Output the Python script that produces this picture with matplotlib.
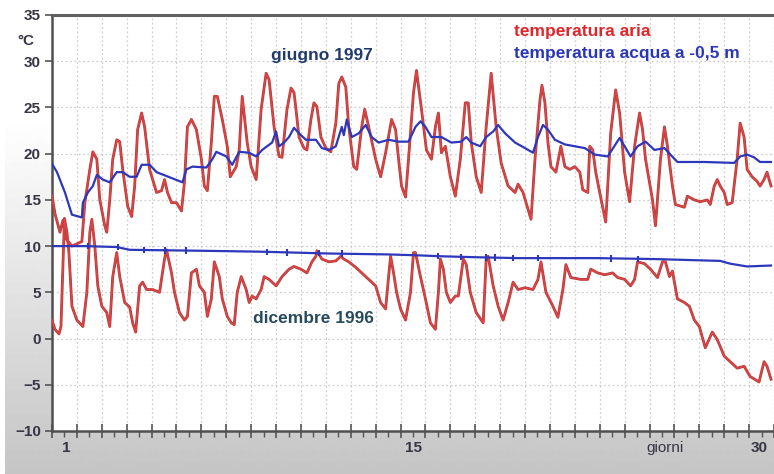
import numpy as np
import matplotlib
matplotlib.use('Agg')
import matplotlib.pyplot as plt
import matplotlib.patheffects as pe

plt.rcParams['font.family'] = ['Liberation Sans', 'DejaVu Sans']

# giugno 1997 - temperatura aria
giu_aria_g = [0.50, 0.62, 0.82, 0.94, 1.06, 1.30, 1.54, 1.70, 1.82, 2.02, 2.14, 2.30, 2.42, 2.62, 2.70,
              2.82, 2.94, 3.10, 3.22, 3.34, 3.54, 3.70, 3.82, 3.94, 4.10, 4.22, 4.42, 4.70, 4.90, 5.02,
              5.14, 5.30, 5.50, 5.70, 5.82, 5.94, 6.10, 6.30, 6.50, 6.62, 6.74, 6.90, 7.02, 7.14, 7.34,
              7.54, 7.66, 7.90, 8.02, 8.14, 8.34, 8.50, 8.70, 8.90, 9.10, 9.22, 9.42, 9.62, 9.74, 9.94,
              10.10, 10.22, 10.30, 10.42, 10.62, 10.74, 10.90, 11.02, 11.14, 11.30, 11.50, 11.70, 11.90,
              12.02, 12.14, 12.30, 12.42, 12.62, 12.74, 12.94, 13.06, 13.22, 13.50, 13.70, 13.90, 14.14,
              14.30, 14.42, 14.54, 14.70, 14.82, 15.02, 15.14, 15.34, 15.54, 15.74, 15.90, 16.02, 16.14,
              16.30, 16.50, 16.70, 16.90, 17.10, 17.22, 17.34, 17.54, 17.74, 17.94, 18.14, 18.34, 18.54,
              18.82, 19.10, 19.22, 19.42, 19.62, 19.74, 19.90, 20.10, 20.18, 20.30, 20.42, 20.54, 20.74,
              20.94, 21.10, 21.30, 21.50, 21.70, 21.82, 22.02, 22.10, 22.22, 22.34, 22.50, 22.74, 22.94,
              23.14, 23.30, 23.50, 23.70, 23.90, 24.10, 24.22, 24.34, 24.62, 24.74, 24.94, 25.10, 25.22,
              25.42, 25.54, 25.90, 26.02, 26.30, 26.54, 26.82, 26.94, 27.10, 27.22, 27.34, 27.50, 27.62,
              27.82, 28.02, 28.14, 28.30, 28.42, 28.62, 28.82, 28.94, 29.10, 29.22, 29.38]
giu_aria_t = [15.5, 13.5, 11.5, 12.8, 10.8, 10.0, 10.3, 10.5, 14.7, 18.3, 20.2, 19.4, 15.0, 12.2, 11.5,
              15.0, 19.4, 21.5, 21.3, 18.3, 14.3, 13.2, 16.5, 22.6, 24.4, 22.9, 18.3, 15.8, 16.0, 17.2,
              15.8, 14.7, 14.7, 13.8, 16.9, 22.9, 23.7, 22.6, 19.4, 16.5, 16.0, 21.2, 26.2, 26.2, 23.7,
              20.8, 17.5, 18.6, 20.4, 26.2, 21.2, 18.6, 17.2, 24.8, 28.7, 28.0, 22.9, 19.7, 19.6, 24.8,
              27.1, 26.6, 24.8, 21.8, 20.6, 20.4, 23.7, 25.5, 25.1, 21.8, 20.6, 20.2, 23.3,
              27.6, 28.3, 27.2, 22.9, 18.6, 18.3, 22.9, 24.8, 22.9, 19.4, 17.5, 20.1, 23.7,
              22.6, 19.4, 16.5, 15.3, 19.4, 26.6, 29.0, 24.8, 20.4, 19.4, 22.9, 24.4, 20.1,
              20.8, 17.5, 15.4, 19.4, 25.5, 25.5, 21.2, 17.5, 15.8, 22.9, 28.7, 22.9, 19.0,
              16.5, 15.8, 16.7, 15.8, 14.0, 12.9, 19.4, 25.8, 27.4, 25.5, 21.2, 18.6, 18.0,
              20.8, 18.6, 18.3, 18.6, 18.0, 16.1, 15.8, 20.8, 20.4, 18.0, 15.8, 12.6, 22.2,
              26.9, 24.4, 18.0, 14.8, 20.8, 24.4, 22.6, 19.4, 15.0, 12.2, 19.4, 22.9, 20.8,
              16.5, 14.5, 14.2, 15.4, 15.0, 14.8, 15.0, 14.5, 16.5, 17.2, 16.5, 15.8, 14.5,
              14.7, 19.4, 23.3, 21.8, 18.3, 17.5, 17.0, 16.5, 17.2, 18.0, 16.5]

# giugno 1997 - temperatura acqua a -0,5 m
giu_acqua_g = [0.50, 0.70, 1.02, 1.30, 1.70, 1.74, 1.94, 2.14, 2.30, 2.54, 2.82, 3.10, 3.34, 3.62, 3.90,
               4.10, 4.42, 4.70, 5.74, 5.90, 6.14, 6.70, 6.94, 7.10, 7.50, 7.74, 8.02, 8.42, 8.70, 8.94,
               9.34, 9.50, 9.62, 9.82, 10.02, 10.22, 10.42, 10.70, 11.10, 11.34, 11.62, 11.90, 12.14,
               12.22, 12.34, 12.54, 12.82, 13.10, 13.34, 13.62, 14.02, 14.42, 14.82, 15.10, 15.30,
               15.50, 15.74, 16.14, 16.54, 16.94, 17.14, 17.34, 17.70, 17.94, 18.22, 18.42, 18.70,
               19.10, 19.50, 19.82, 20.02, 20.22, 20.42, 20.70, 21.10, 21.50, 21.90, 22.30, 22.82,
               23.30, 23.50, 23.74, 24.02, 24.34, 24.70, 25.10, 25.34, 25.62, 26.70, 27.90, 28.14,
               28.42, 28.70, 28.94, 29.38]
giu_acqua_t = [18.9, 18.0, 15.8, 13.4, 13.1, 14.7, 15.8, 16.5, 17.7, 17.2, 16.9, 18.0, 18.0, 17.5, 17.5,
               18.8, 18.8, 18.0, 16.9, 18.3, 18.6, 18.5, 19.4, 20.2, 19.7, 18.8, 20.2, 20.1, 19.7, 20.4,
               21.2, 22.4, 20.8, 21.2, 21.8, 22.8, 22.2, 21.5, 21.5, 20.6, 20.4, 20.8, 22.9,
               22.0, 23.7, 21.8, 22.2, 23.1, 21.8, 21.2, 21.5, 21.3, 21.3, 22.9, 23.5,
               22.9, 21.8, 21.8, 21.2, 21.3, 21.8, 21.2, 20.8, 21.8, 22.4, 23.1, 22.2,
               21.2, 20.6, 20.1, 21.8, 23.1, 22.6, 21.5, 21.0, 20.8, 20.6, 19.9, 19.7,
               21.7, 20.8, 19.7, 20.8, 21.3, 20.4, 20.6, 19.9, 19.1, 19.1, 19.0, 19.7,
               19.9, 19.6, 19.1, 19.1]

# dicembre 1996 - temperatura aria
dic_aria_g = [0.50, 0.62, 0.78, 0.86, 0.94, 1.00, 1.10, 1.18, 1.30, 1.50, 1.74, 1.90, 2.02, 2.10, 2.22,
              2.34, 2.50, 2.70, 2.82, 2.94, 3.10, 3.22, 3.42, 3.62, 3.74, 3.86, 4.02, 4.14, 4.30, 4.54,
              4.82, 5.02, 5.10, 5.30, 5.42, 5.62, 5.82, 5.94, 6.10, 6.30, 6.42, 6.62, 6.74, 6.90, 7.02,
              7.22, 7.34, 7.54, 7.70, 7.82, 7.94, 8.10, 8.30, 8.42, 8.54, 8.70, 8.90, 9.02, 9.22, 9.50,
              9.74, 10.02, 10.22, 10.50, 10.74, 10.94, 11.10, 11.14, 11.34, 11.62, 11.90, 12.10, 12.22,
              12.42, 12.70, 12.94, 13.22, 13.50, 13.70, 13.90, 14.02, 14.10, 14.22, 14.34, 14.50, 14.70,
              14.90, 15.02, 15.10, 15.30, 15.50, 15.70, 15.90, 16.02, 16.10, 16.22, 16.34, 16.50, 16.70,
              16.82, 17.02, 17.14, 17.30, 17.54, 17.82, 17.94, 18.02, 18.22, 18.42, 18.62, 18.82, 19.02,
              19.22, 19.50, 19.82, 20.02, 20.14, 20.34, 20.62, 20.82, 21.02, 21.14, 21.34, 21.74, 22.02,
              22.14, 22.42, 22.70, 23.02, 23.22, 23.50, 23.74, 23.90, 24.02, 24.30, 24.54, 24.82, 25.02,
              25.14, 25.30, 25.42, 25.62, 25.90, 26.10, 26.30, 26.50, 26.74, 27.02, 27.22, 27.50, 27.74,
              28.02, 28.30, 28.54, 28.90, 29.10, 29.22, 29.38]
dic_aria_t = [2.0, 1.0, 0.5, 1.3, 8.0, 13.0, 11.5, 9.3, 3.5, 2.0, 1.3, 5.0, 11.5, 12.9, 10.0,
              5.7, 3.5, 2.8, 1.3, 6.7, 9.3, 6.7, 3.9, 3.4, 1.7, 0.7, 5.7, 6.1, 5.3, 5.3,
              5.0, 8.6, 9.6, 7.1, 5.0, 2.8, 2.0, 2.4, 7.1, 7.5, 5.7, 5.0, 2.4, 4.3, 8.3,
              6.7, 4.3, 2.4, 1.7, 1.5, 5.0, 6.7, 5.3, 3.9, 4.6, 4.3, 5.3, 6.7, 6.4, 5.7,
              6.7, 7.5, 7.8, 7.5, 7.1, 8.3, 8.9, 9.5, 8.6, 8.3, 8.4, 8.9, 8.6,
              8.3, 7.7, 7.1, 6.4, 5.7, 3.9, 3.2, 6.7, 8.9, 7.1, 5.0, 3.2, 2.0,
              5.0, 9.3, 9.3, 6.7, 4.3, 1.7, 1.0, 5.0, 8.6, 7.5, 5.0, 3.9, 4.6,
              4.6, 8.6, 8.0, 5.0, 2.8, 1.7, 8.6, 8.9, 5.7, 3.5, 2.0, 3.9, 6.1,
              5.3, 5.5, 5.3, 6.4, 8.3, 5.0, 3.5, 2.3, 5.3, 8.0, 6.6, 6.4, 6.4,
              7.5, 7.1, 6.9, 7.1, 6.6, 6.4, 5.7, 6.4, 8.3, 8.1, 7.5, 6.6, 8.3,
              8.3, 6.7, 7.3, 4.3, 3.9, 3.5, 2.0, 1.3, -1.0, 0.7, -0.1, -1.9, -2.5,
              -3.2, -3.0, -4.1, -4.7, -2.5, -3.0, -4.4]

# dicembre 1996 - temperatura acqua a -0,5 m
dic_acqua_g = [0.50, 1.82, 3.10, 3.62, 6.42, 8.82, 11.62, 14.02, 15.22, 16.14, 17.50, 19.22, 22.42,
               24.70, 26.02, 27.34, 27.74, 28.42, 29.38]
dic_acqua_t = [10.0, 10.0, 9.9, 9.6, 9.5, 9.4, 9.2, 9.1, 9.0, 8.9, 8.8, 8.7, 8.7,
               8.6, 8.5, 8.4, 8.1, 7.8, 7.9]
dic_acqua_scatti = [1.94, 3.14, 4.18, 5.02, 5.90, 9.14, 9.94, 11.22, 12.14, 16.02, 16.94, 17.94,
                    18.30, 19.02, 20.02, 22.94, 24.02]

y_ticks = list(range(-10, 40, 5))
x_etichette = ['1', '15', '30']
x_etichette_pos = [1.06, 15.02, 28.9]

ROSSO = '#de4444'
ROSSO_BORDO = '#b03a3a'
BLU = '#2d37bb'
TESTO = '#363644'

W, H = 774, 474
fig = plt.figure(figsize=(W / 100, H / 100), dpi=100)

# sfondo grigio sfumato
bg = fig.add_axes([5 / W, 0, 1 - 5 / W, 1], zorder=0)
righe = np.arange(H)
sfum = np.clip(1 - 0.23 * (righe - 120) / 354, 0.77, 1.0).reshape(-1, 1)
bg.imshow(sfum, cmap='gray', vmin=0, vmax=1, aspect='auto', extent=[0, 1, 0, 1])
bg.axis('off')

ax = fig.add_axes([52 / W, 1 - 431 / H, 1 - 52 / W, 416 / H], zorder=1)
ax.set_facecolor('white')

bordo = [pe.Stroke(linewidth=2.0, foreground=ROSSO_BORDO), pe.Normal()]
ax.plot(giu_aria_g, giu_aria_t, color=ROSSO, lw=1.1, zorder=3, path_effects=bordo)
ax.plot(dic_aria_g, dic_aria_t, color=ROSSO, lw=1.1, zorder=3, path_effects=bordo)
ax.plot(giu_acqua_g, giu_acqua_t, color=BLU, lw=1.6, zorder=4)
ax.plot(dic_acqua_g, dic_acqua_t, color=BLU, lw=1.6, zorder=4)
base = np.interp(dic_acqua_scatti, dic_acqua_g, dic_acqua_t)
ax.vlines(dic_acqua_scatti, base - 0.35, base + 0.35, color=BLU, lw=1.5, zorder=4)

ax.set_xlim(0.5, 29.38)
ax.set_ylim(-10, 35)

ax.set_xticks(np.arange(0.5, 30, 1))
ax.set_xticks(np.arange(1, 30, 1), minor=True)
ax.set_xticklabels([])
ax.tick_params(axis='x', which='major', direction='inout', length=10, width=1.2, color='#555555')
ax.tick_params(axis='x', which='minor', direction='out', length=4, width=1.0, color='#555555')
ax.set_yticks(y_ticks)
ax.tick_params(axis='y', direction='out', length=5, width=1.2, color='#555555',
               labelsize=11, labelcolor=TESTO, pad=3)
for lab in ax.get_yticklabels():
    lab.set_fontweight('bold')
ax.grid(True, which='major', ls=(0, (1.5, 2)), color='#cfcfcf', lw=0.9)

for s in ['left', 'bottom']:
    ax.spines[s].set_color('#505050')
    ax.spines[s].set_linewidth(1.8)
ax.spines['top'].set_color('#606060')
ax.spines['top'].set_linewidth(2.2)
ax.spines['right'].set_visible(False)

for p, t in zip(x_etichette_pos, x_etichette):
    ax.text(p, -0.041, t, transform=ax.get_xaxis_transform(), ha='center', va='center',
            fontsize=11, fontweight='bold', color=TESTO)
ax.text(25.14, -0.041, 'giorni', transform=ax.get_xaxis_transform(), ha='center', va='center',
        fontsize=11, color=TESTO)
fig.text(26 / W, 1 - 41 / H, '°C', ha='center', va='center', fontsize=11,
         fontweight='bold', color=TESTO)

ax.text(11.35, 30.6, 'giugno 1997', ha='center', va='center', fontsize=12.5,
        fontweight='bold', color='#1f3b6b', zorder=5)
ax.text(11.0, 2.2, 'dicembre 1996', ha='center', va='center', fontsize=12.5,
        fontweight='bold', color='#284a5c', zorder=5)
ax.text(19.05, 33.2, 'temperatura aria', ha='left', va='center', fontsize=12.5,
        fontweight='bold', color='#e0262a', zorder=5)
ax.text(19.05, 30.8, 'temperatura acqua a -0,5 m', ha='left', va='center', fontsize=12.5,
        fontweight='bold', color='#2a36b8', zorder=5)

fig.savefig('out.png', dpi=100)
